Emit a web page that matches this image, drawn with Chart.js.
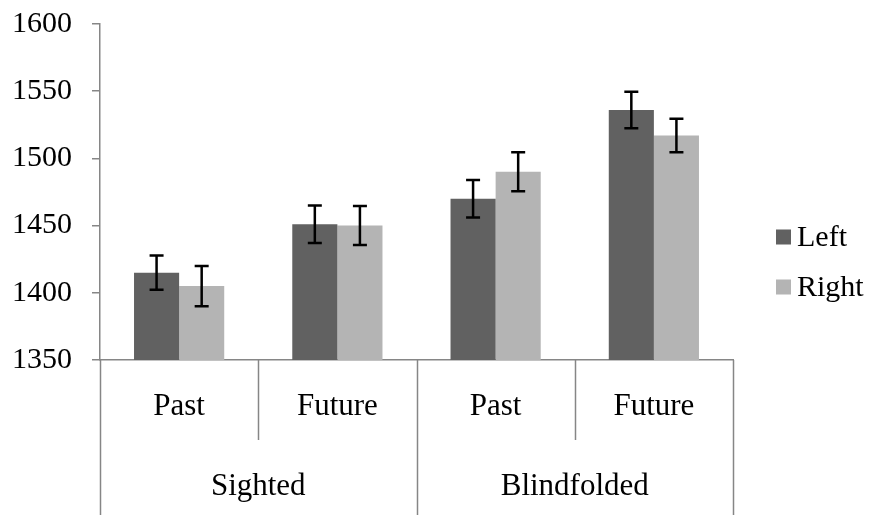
<!DOCTYPE html>
<html>
<head>
<meta charset="utf-8">
<script src="https://cdn.jsdelivr.net/npm/chart.js@4.4.1/dist/chart.umd.min.js"></script>
<style>
  html, body { margin: 0; padding: 0; background: #ffffff; }
  #wrap { width: 873px; height: 515px; }
</style>
</head>
<body>
<div id="wrap"><canvas id="chart" width="873" height="515"></canvas></div>
<script>
// Mean response times (ms) by condition, with error-bar half widths
const conditions = ['Past', 'Future', 'Past', 'Future'];
const groups = ['Sighted', 'Blindfolded'];
const groupSize = 2;
const seriesNames = ['Left', 'Right'];
const leftValues = [1415, 1451, 1470, 1536];
const rightValues = [1405, 1450, 1490, 1517];
const leftErrors = [12.7, 14, 14, 13.5];
const rightErrors = [15, 14.5, 14.5, 12.5];
const yTicks = [1350, 1400, 1450, 1500, 1550, 1600];

const FONT = "'Liberation Serif', 'Times New Roman', serif";
const AXIS_GREY = '#868686';
const colors = ['#616161', '#b4b4b4'];
const errors = [leftErrors, rightErrors];

// Error bars drawn through the scales
const errorBars = {
  id: 'errorBars',
  afterDatasetsDraw(chart) {
    const ctx = chart.ctx;
    const y = chart.scales.y;
    ctx.save();
    ctx.strokeStyle = '#000';
    ctx.lineWidth = 2.5;
    chart.data.datasets.forEach((ds, di) => {
      const meta = chart.getDatasetMeta(di);
      meta.data.forEach((bar, i) => {
        const v = ds.data[i], e = errors[di][i];
        const top = y.getPixelForValue(v + e);
        const bot = y.getPixelForValue(v - e);
        const cx = bar.x, cap = 7;
        ctx.beginPath();
        ctx.moveTo(cx, top); ctx.lineTo(cx, bot);
        ctx.moveTo(cx - cap, top); ctx.lineTo(cx + cap, top);
        ctx.moveTo(cx - cap, bot); ctx.lineTo(cx + cap, bot);
        ctx.stroke();
      });
    });
    ctx.restore();
  }
};

// Two-level category axis (condition / group) with separators, plus legend
const groupedAxis = {
  id: 'groupedAxis',
  afterDraw(chart) {
    const ctx = chart.ctx;
    const x = chart.scales.x;
    const area = chart.chartArea;
    const n = conditions.length;
    const step = (area.right - area.left) / n;
    const base = area.bottom;
    const innerBottom = base + 80;
    const outerBottom = chart.height;
    ctx.save();
    ctx.strokeStyle = AXIS_GREY;
    ctx.lineWidth = 1.5;
    for (let i = 0; i <= n; i++) {
      const bx = Math.round(area.left + i * step) + 0.5;
      const isGroupEdge = i % groupSize === 0;
      ctx.beginPath();
      ctx.moveTo(bx, base);
      ctx.lineTo(bx, isGroupEdge ? outerBottom : innerBottom);
      ctx.stroke();
    }
    ctx.fillStyle = '#000';
    ctx.font = '31px ' + FONT;
    ctx.textAlign = 'center';
    ctx.textBaseline = 'middle';
    conditions.forEach((c, i) => {
      ctx.fillText(c, x.getPixelForValue(i), base + 47);
    });
    groups.forEach((g, gi) => {
      const l = area.left + gi * groupSize * step;
      const r = l + groupSize * step;
      ctx.fillText(g, (l + r) / 2, base + 127);
    });
    // legend
    ctx.textAlign = 'left';
    ctx.font = '30px ' + FONT;
    chart.data.datasets.forEach((ds, di) => {
      const cy = 237 + di * 50;
      ctx.fillStyle = ds.backgroundColor;
      ctx.fillRect(776, cy - 7.5, 15, 15);
      ctx.fillStyle = '#000';
      ctx.fillText(ds.label, 797, cy + 1);
    });
    ctx.restore();
  }
};

new Chart(document.getElementById('chart'), {
  type: 'bar',
  data: {
    labels: conditions,
    datasets: [
      { label: seriesNames[0], data: leftValues, backgroundColor: colors[0] },
      { label: seriesNames[1], data: rightValues, backgroundColor: colors[1] }
    ]
  },
  options: {
    responsive: false,
    devicePixelRatio: 1,
    animation: false,
    layout: { padding: { left: 0, right: 140, top: 24, bottom: 0 } },
    datasets: { bar: { categoryPercentage: 0.57, barPercentage: 1.0 } },
    plugins: { legend: { display: false }, tooltip: { enabled: false } },
    scales: {
      x: {
        type: 'category',
        grid: { display: false },
        border: { display: true, color: AXIS_GREY, width: 1.5 },
        ticks: { display: false },
        afterFit(s) { s.height = 155; s.paddingLeft = 0; s.paddingRight = 0; }
      },
      y: {
        min: yTicks[0],
        max: yTicks[yTicks.length - 1],
        afterBuildTicks(s) { s.ticks = yTicks.map(v => ({ value: v })); },
        grid: { display: true, drawOnChartArea: false, drawTicks: true, tickLength: 8, color: AXIS_GREY, lineWidth: 1.5 },
        border: { display: true, color: AXIS_GREY, width: 1.5 },
        ticks: { color: '#000', font: { family: FONT, size: 30 }, padding: 20, callback: v => String(v) },
        afterFit(s) { s.width = 100; s.paddingTop = 0; s.paddingBottom = 0; }
      }
    }
  },
  plugins: [errorBars, groupedAxis]
});
</script>
</body>
</html>
